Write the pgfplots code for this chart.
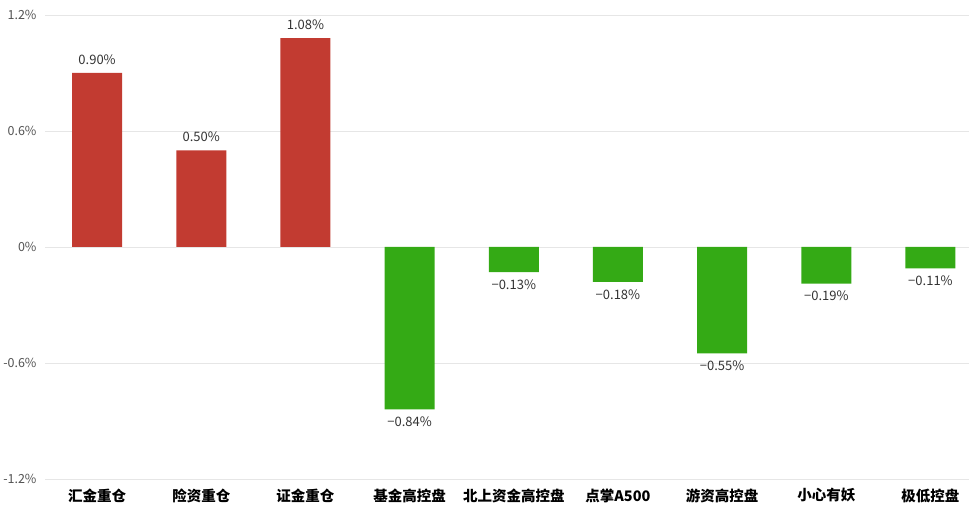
\documentclass[border=0pt]{standalone}
\usepackage{pgfplots}
\pgfplotsset{compat=1.18}
\usepackage{fontspec}
\newfontfamily\cjk{Noto Sans CJK SC}
\definecolor{upred}{HTML}{C23B31}
\definecolor{downgreen}{HTML}{34AA15}
\definecolor{gridgray}{HTML}{E6E6E6}
\definecolor{txt}{HTML}{333333}

\begin{document}
\begin{tikzpicture}
\begin{axis}[
  scale only axis, width=924pt, height=464pt,
  ybar, bar width=0.48, bar shift=0pt,
  xmin=-0.5, xmax=8.37, ymin=-1.2, ymax=1.2,
  axis line style={draw=none}, major tick length=0pt,
  ymajorgrids, grid style={gridgray, line width=0.8pt},
  ytick={-1.2,-0.6,0,0.6,1.2},
  yticklabels={-1.2\%,-0.6\%,0\%,0.6\%,1.2\%},
  yticklabel style={font=\cjk\fontsize{12.5}{14}\selectfont, text=txt!85, anchor=east, xshift=-5pt},
  xtick={0,...,8},
  xticklabels={汇金重仓,险资重仓,证金重仓,基金高控盘,北上资金高控盘,点掌A500,游资高控盘,小心有妖,极低控盘},
  xticklabel style={font=\cjk\bfseries\fontsize{14.5}{16}\selectfont, text=black, yshift=-6pt},
  point meta=explicit symbolic,
  nodes near coords,
  every node near coord/.append style={font=\cjk\fontsize{13}{15}\selectfont, text=txt},
]
\addplot[fill=upred, draw=none, every node near coord/.append style={anchor=south, yshift=5pt}]
  coordinates {(0,0.90) [0.90\%] (1,0.50) [0.50\%] (2,1.08) [1.08\%]};
\addplot[fill=downgreen, draw=none, every node near coord/.append style={anchor=north, yshift=-4pt}]
  coordinates {(3,-0.84) [−0.84\%] (4,-0.13) [−0.13\%] (5,-0.18) [−0.18\%]
               (6,-0.55) [−0.55\%] (7,-0.19) [−0.19\%] (8,-0.11) [−0.11\%]};
\end{axis}
\pgfresetboundingbox
\path (current axis.south west) ++(-45pt,-33pt) coordinate (bl);
\path (current axis.north east) ++(0pt,15pt) coordinate (tr);
\path[use as bounding box] (bl) rectangle (tr);
\end{tikzpicture}
\end{document}
